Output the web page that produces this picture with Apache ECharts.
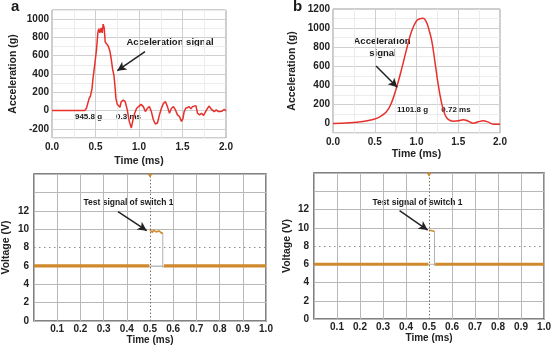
<!DOCTYPE html>
<html>
<head>
<meta charset="utf-8">
<script src="https://cdn.jsdelivr.net/npm/echarts@6/dist/echarts.min.js"></script>
<style>html,body{margin:0;padding:0;background:#fff}#c{width:554px;height:348px}</style>
</head>
<body>
<div id="c"></div>
<script>
// ---- Panel a: acceleration signal (g) vs time (ms)
const aTime = [0,0.377,0.396,0.427,0.442,0.46,0.473,0.492,0.512,0.527,0.538,0.55,0.565,0.577,0.588,0.6,0.612,0.627,0.646,0.665,0.681,0.696,0.712,0.723,0.735,0.75,0.769,0.781,0.796,0.819,0.842,0.865,0.888,0.912,0.927,0.95,0.973,0.996,1.023,1.05,1.073,1.096,1.119,1.142,1.165,1.188,1.212,1.235,1.258,1.281,1.304,1.327,1.35,1.373,1.396,1.419,1.442,1.465,1.488,1.504,1.519,1.538,1.558,1.577,1.596,1.615,1.635,1.654,1.673,1.696,1.719,1.742,1.765,1.788,1.808,1.827,1.846,1.865,1.888,1.912,1.935,1.958,1.981,2.0];
const aAccel = [0,0,25,133,158,240,366,509,670,850,896,850,903,850,946,903,749,749,706,652,563,455,384,276,133,68,54,36,97,115,97,7,-118,-190,-118,-29,25,43,68,43,-11,25,43,-11,-100,-147,-136,-47,25,79,97,43,-29,25,43,7,-47,-65,-118,-90,-11,25,7,43,18,43,25,54,-29,-47,-29,-54,-11,25,50,18,32,-11,7,-11,-11,-4,14,-4];
// ---- Panel b
const bTime = [0,0.2,0.36,0.48,0.56,0.64,0.7,0.76,0.82,0.88,0.94,1.0,1.04,1.08,1.12,1.14,1.18,1.22,1.26,1.3,1.34,1.38,1.44,1.5,1.56,1.62,1.68,1.74,1.8,1.86,1.92,2.0];
const bAccel = [0,7,21,42,70,122,216,373,564,774,965,1075,1098,1102,1060,1010,878,652,408,216,94,42,24,28,40,24,2,17,28,14,-7,-7];
// ---- Panel c: switch test signal (V)
const baseLevel = 6;
const cBaseBefore = [0, 0.497];
const cBaseAfter = [0.56, 1.0];
const cPulseTime = [0.5,0.503,0.507,0.511,0.515,0.519,0.523,0.527,0.531,0.535,0.539,0.543,0.547,0.551,0.555];
const cPulseVolt = [9.9,9.7,9.95,9.65,9.9,9.7,9.95,9.7,9.85,9.6,9.8,9.6,9.7,9.55,9.6];
const cFallTime = 0.555;
// ---- Panel d
const dBaseBefore = [0, 0.497];
const dBaseAfter = [0.527, 1.0];
const dPulseTime = [0.5,0.504,0.508,0.512,0.516,0.52,0.524];
const dPulseVolt = [9.75,9.7,9.72,9.68,9.7,9.66,9.6];
const dFallTime = 0.524;
const fallLow = 5.8;
// ---- reference levels / ticks
const refVolt = 8;
const triggerTime = 0.5;
const voltLabelMax = 12;

const zip = (xs, ys) => xs.map((x, i) => [x, ys[i]]);
const FONT = '"Liberation Sans", Arial, sans-serif';
const ORANGE = '#cf8a2e';
const RED = '#e8302b';

function accelX(gi, name, gap) {
  return {
    type: 'value', gridIndex: gi, min: 0, max: 2, interval: 0.5,
    name: name, nameLocation: 'middle', nameGap: gap,
    nameTextStyle: {fontFamily: FONT, fontWeight: 'bold', fontSize: 10.5, color: '#222'},
    axisLine: {show: false}, axisTick: {show: false},
    axisLabel: {fontFamily: FONT, fontWeight: 'bold', fontSize: 10, color: '#222', margin: 4, formatter: v => v.toFixed(1)},
    splitLine: {show: true, lineStyle: {color: '#cfcfcf', width: 1}},
    minorTick: {show: false, splitNumber: 2},
    minorSplitLine: {show: true, lineStyle: {color: '#ececec', width: 1}}
  };
}
function accelY(gi, min, max, gap) {
  return {
    type: 'value', gridIndex: gi, min: min, max: max, interval: 100,
    name: 'Acceleration (g)', nameLocation: 'middle', nameGap: gap, nameRotate: 90,
    nameTextStyle: {fontFamily: FONT, fontWeight: 'bold', fontSize: 10.5, color: '#222'},
    axisLine: {show: false}, axisTick: {show: false},
    axisLabel: {fontFamily: FONT, fontWeight: 'bold', fontSize: 10, color: '#222', margin: 3,
      formatter: v => (v % 200 === 0) ? String(v) : ''},
    splitLine: {show: true, lineStyle: {color: ['#ececec', '#cfcfcf'], width: 1}}
  };
}
function voltX(gi) {
  return {
    type: 'value', gridIndex: gi, min: 0, max: 1, interval: 0.1,
    name: 'Time (ms)', nameLocation: 'middle', nameGap: 14,
    nameTextStyle: {fontFamily: FONT, fontWeight: 'bold', fontSize: 10, color: '#222'},
    axisLine: {show: false}, axisTick: {show: false},
    axisLabel: {fontFamily: FONT, fontWeight: 'bold', fontSize: 10, color: '#222', margin: 3,
      formatter: v => v === 0 ? '' : v.toFixed(1)},
    splitLine: {show: true, lineStyle: {color: ['#b8b8b8','#b8b8b8','#b8b8b8','#b8b8b8','#b8b8b8','transparent','#b8b8b8','#b8b8b8','#b8b8b8','#b8b8b8','#b8b8b8'], width: 1}}
  };
}
function voltY(gi, gap) {
  return {
    type: 'value', gridIndex: gi, min: 0, max: 16, interval: 2,
    name: 'Voltage (V)', nameLocation: 'middle', nameGap: gap, nameRotate: 90,
    nameTextStyle: {fontFamily: FONT, fontWeight: 'bold', fontSize: 10.5, color: '#222'},
    axisLine: {show: false}, axisTick: {show: false},
    axisLabel: {fontFamily: FONT, fontWeight: 'bold', fontSize: 10, color: '#222', margin: 5,
      formatter: v => v <= voltLabelMax ? String(v) : ''},
    splitLine: {show: true, lineStyle: {color: ['#b8b8b8','#b8b8b8','#b8b8b8','#b8b8b8','transparent','#b8b8b8','#b8b8b8','#b8b8b8','#b8b8b8'], width: 1}}
  };
}
function arrow(p0, p1) {
  return [{coord: p0, symbol: 'none'}, {coord: p1, symbol: 'arrow', symbolSize: [7, 9]}];
}
const arrowStyle = {color: '#222', width: 1.5, type: 'solid'};

function scopeSeries(gi, before, after, pT, pV, fallT, arrowData) {
  const common = {xAxisIndex: gi, yAxisIndex: gi, type: 'line', showSymbol: false, symbol: 'none', silent: true};
  return [
    Object.assign({}, common, {
      data: [[0, baseLevel], [1, baseLevel]], lineStyle: {width: 0, opacity: 0},
      markLine: {silent: true, symbol: ['none', 'none'], label: {show: false},
        data: [
          {yAxis: refVolt, lineStyle: {color: '#8c8c8c', width: 1, type: [1.5, 3.5]}},
          {xAxis: triggerTime, lineStyle: {color: '#7a6e5c', width: 1, type: [1.5, 2]}},
          arrow(arrowData[0], arrowData[1]).map((d, i) => i === 0 ? Object.assign(d, {lineStyle: arrowStyle}) : d)
        ]},
      markPoint: {silent: true, symbol: 'triangle', symbolRotate: 180, symbolSize: [5, 4],
        itemStyle: {color: ORANGE}, label: {show: false},
        data: [{coord: [triggerTime, 15.8]}]}
    }),
    Object.assign({}, common, {data: [[pT[0], baseLevel], [fallT, baseLevel]], lineStyle: {color: '#c4c4c4', width: 1}}),
    Object.assign({}, common, {data: [[fallT, pV[pV.length - 1]], [fallT, fallLow]], lineStyle: {color: '#b0b0b0', width: 1}}),
    Object.assign({}, common, {data: before.map(t => [t, baseLevel]), lineStyle: {color: ORANGE, width: 3.2}}),
    Object.assign({}, common, {data: after.map(t => [t, baseLevel]), lineStyle: {color: ORANGE, width: 3.2}}),
    Object.assign({}, common, {data: zip(pT, pV), lineStyle: {color: ORANGE, width: 1.6}})
  ];
}

const txt = (x, y, text, size, align) => ({
  type: 'text', silent: true,
  style: {x: x, y: y, text: text, fill: '#1a1a1a', font: 'bold ' + size + 'px ' + FONT,
    textAlign: align || 'center', textVerticalAlign: 'middle'}
});

const option = {
  animation: false,
  backgroundColor: '#fff',
  grid: [
    {left: 52, top: 10, width: 174, height: 128, show: true, borderColor: '#9a9a9a', borderWidth: 1, backgroundColor: 'transparent'},
    {left: 333, top: 9, width: 167, height: 124, show: true, borderColor: '#9a9a9a', borderWidth: 1, backgroundColor: 'transparent'},
    {left: 32, top: 174, width: 234, height: 147, show: true, borderColor: '#5a5a5a', borderWidth: 1.5, backgroundColor: 'transparent'},
    {left: 314, top: 173, width: 232, height: 146, show: true, borderColor: '#5a5a5a', borderWidth: 1.5, backgroundColor: 'transparent'}
  ],
  xAxis: [accelX(0, 'Time (ms)', 18), accelX(1, 'Time (ms)', 16), voltX(2), voltX(3)],
  yAxis: [accelY(0, -300, 1100, 33), accelY(1, -100, 1200, 35), voltY(2, 22), voltY(3, 21)],
  series: [
    {type: 'line', xAxisIndex: 0, yAxisIndex: 0, data: zip(aTime, aAccel), showSymbol: false, symbol: 'none',
      lineStyle: {color: RED, width: 1.5}, silent: true,
      markLine: {silent: true, symbol: ['none', 'none'], label: {show: false}, lineStyle: arrowStyle,
        data: [arrow([1.069, 644], [0.751, 436])]}},
    {type: 'line', xAxisIndex: 1, yAxisIndex: 1, data: zip(bTime, bAccel), showSymbol: false, symbol: 'none', smooth: 0.4,
      lineStyle: {color: RED, width: 1.5}, silent: true,
      markLine: {silent: true, symbol: ['none', 'none'], label: {show: false}, lineStyle: arrowStyle,
        data: [arrow([0.515, 602], [0.770, 379])]}}
  ].concat(
    scopeSeries(2, cBaseBefore, cBaseAfter, cPulseTime, cPulseVolt, cFallTime, [[0.362, 11.9], [0.486, 9.83]]),
    scopeSeries(3, dBaseBefore, dBaseAfter, dPulseTime, dPulseVolt, dFallTime, [[0.372, 11.87], [0.494, 9.75]])
  ),
  graphic: [
    txt(11, 7, 'a', 15, 'left'),
    txt(293, 7, 'b', 15, 'left'),
    txt(170, 42.5, 'Acceleration signal', 9.5),
    txt(88.5, 117, '945.8 g', 8),
    txt(128.5, 117, '0.3 ms', 8),
    txt(382, 41.5, 'Acceleration', 9.5),
    txt(383, 53, 'signal', 9.5),
    txt(412.5, 110, '1101.8 g', 8),
    txt(456, 110, '0.72 ms', 8),
    txt(128.5, 202.5, 'Test signal of switch 1', 8.5),
    txt(417.5, 202.5, 'Test signal of switch 1', 8.5)
  ]
};
const chart = echarts.init(document.getElementById('c'), null, {renderer: 'canvas'});
chart.setOption(option);
</script>
</body>
</html>
